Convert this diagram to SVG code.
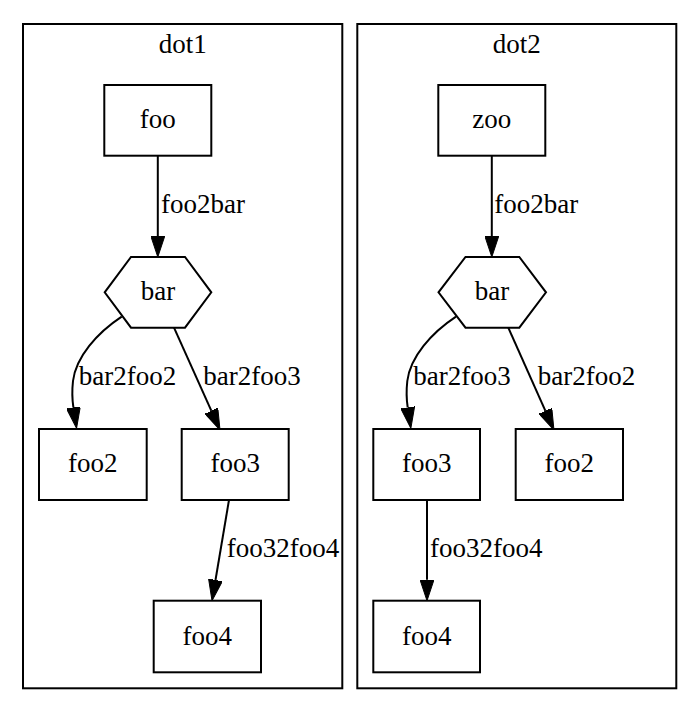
<svg xmlns="http://www.w3.org/2000/svg" width="700" height="712" viewBox="0 0 700 712">
<style>
.cl{fill:none;stroke:#000;stroke-width:2}
.nd{fill:#fff;stroke:#000;stroke-width:2}
.e{fill:none;stroke:#000;stroke-width:2}
text{font-family:"Liberation Serif","Times New Roman",serif;font-size:27px;fill:#000}
.c{text-anchor:middle}
</style>
<defs>
<marker id="ah" viewBox="0 0 21 14" refX="0" refY="7" markerWidth="21" markerHeight="14" markerUnits="userSpaceOnUse" orient="auto">
<path d="M0,0 L21,7 L0,14 Z" fill="#000" stroke="#000" stroke-width="1"/>
</marker>
</defs>
<rect width="700" height="712" fill="#fff"/>
<g id="cluster_dot1">
<rect class="cl" x="23" y="24" width="319.3" height="664.3"/>
<text class="c" x="182.7" y="53">dot1</text>
</g>
<g id="cluster_dot2">
<rect class="cl" x="357.3" y="24" width="319" height="664.3"/>
<text class="c" x="516.8" y="53">dot2</text>
</g>
<g id="connectors">
<path class="e" marker-end="url(#ah)" d="M157.8,155.7 L157.8,236"/>
<path class="e" marker-end="url(#ah)" d="M121.7,316.7 C97,333 76,357 73,381 C72,390 71.8,397 73.4,407.5"/>
<path class="e" marker-end="url(#ah)" d="M174,327.7 L211.4,410.8"/>
<path class="e" marker-end="url(#ah)" d="M229,500 L215.5,580"/>
<path class="e" marker-end="url(#ah)" d="M491.8,155.7 L491.8,236"/>
<path class="e" marker-end="url(#ah)" d="M456,316.7 C431.3,333 410.3,357 407.3,381 C406.3,390 406.1,397 407.7,407.5"/>
<path class="e" marker-end="url(#ah)" d="M508.3,327.7 L545.4,410.8"/>
<path class="e" marker-end="url(#ah)" d="M427,500 L427,579.7"/>
<text x="161" y="213.3">foo2bar</text>
<text x="78.7" y="385">bar2foo2</text>
<text x="203.3" y="385">bar2foo3</text>
<text x="226.7" y="556.7">foo32foo4</text>
<text x="494.3" y="213.3">foo2bar</text>
<text x="413.3" y="385">bar2foo3</text>
<text x="537.7" y="385">bar2foo2</text>
<text x="430" y="556.7">foo32foo4</text>
</g>
<g id="foo">
<rect class="nd" x="104.3" y="85" width="107" height="70.7"/>
<text class="c" x="157.8" y="128.3">foo</text>
</g>
<g id="bar1">
<polygon class="nd" points="131,257 185,257 211.3,292.3 185,327.7 131,327.7 104.7,292.3"/>
<text class="c" x="158" y="300">bar</text>
</g>
<g id="foo2_1">
<rect class="nd" x="39" y="429" width="107.7" height="71"/>
<text class="c" x="92.8" y="472.3">foo2</text>
</g>
<g id="foo3_1">
<rect class="nd" x="181.7" y="429" width="107" height="71"/>
<text class="c" x="235.2" y="472.3">foo3</text>
</g>
<g id="foo4_1">
<rect class="nd" x="153.7" y="600.7" width="107.3" height="71.6"/>
<text class="c" x="207.3" y="645">foo4</text>
</g>
<g id="zoo">
<rect class="nd" x="438.3" y="85" width="107" height="70.7"/>
<text class="c" x="491.8" y="128.3">zoo</text>
</g>
<g id="bar2">
<polygon class="nd" points="465.5,257 519.3,257 546,292.3 519.3,327.7 465.5,327.7 438.5,292.3"/>
<text class="c" x="492" y="300">bar</text>
</g>
<g id="foo3_2">
<rect class="nd" x="373.3" y="429" width="106.7" height="71"/>
<text class="c" x="426.7" y="472.3">foo3</text>
</g>
<g id="foo2_2">
<rect class="nd" x="515.7" y="429" width="107.3" height="71"/>
<text class="c" x="569.3" y="472.3">foo2</text>
</g>
<g id="foo4_2">
<rect class="nd" x="373.3" y="600.7" width="106.7" height="71.6"/>
<text class="c" x="426.7" y="645">foo4</text>
</g>
</svg>
